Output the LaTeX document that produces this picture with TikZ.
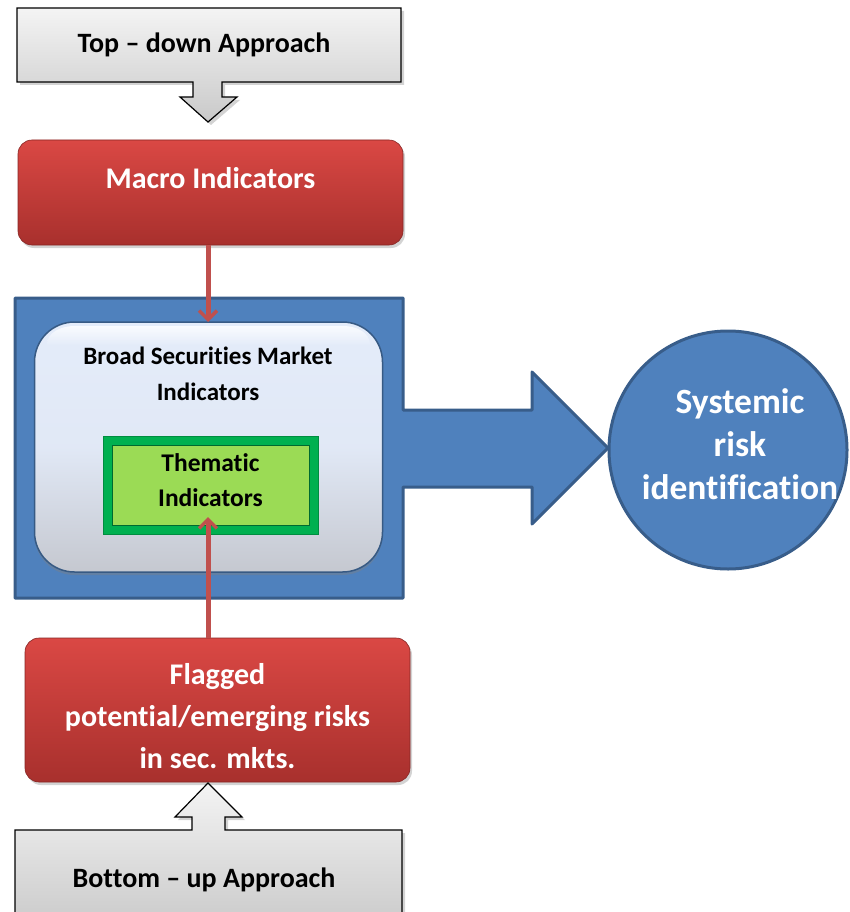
\documentclass[tikz,border=0pt]{standalone}
\usepackage{fontspec}
\setmainfont{Carlito}[Ligatures=NoCommon]
\newcommand\tI{t\kern0pt i}
\usetikzlibrary{arrows.meta,shadows,shapes.geometric}
\definecolor{redT}{HTML}{DA4844}
\definecolor{redB}{HTML}{A8302D}
\definecolor{redline}{HTML}{C0504D}
\definecolor{blueF}{HTML}{4F81BD}
\definecolor{blueD}{HTML}{385D8A}
\definecolor{grayT}{HTML}{F4F4F4}
\definecolor{grayB}{HTML}{C9C9C9}
\definecolor{innerT}{HTML}{E4ECFA}
\definecolor{innerB}{HTML}{C5C8D0}
\definecolor{greenO}{HTML}{00B050}
\definecolor{greenI}{HTML}{9BDB55}
\tikzset{
  x=1pt,y=-1pt,
  redbox/.style={draw=redB!80!black,line width=0.6pt,rounded corners=14pt,top color=redT,bottom color=redB,
     text=white,font=\bfseries\fontsize{30}{42}\selectfont,align=center,
     drop shadow={shadow xshift=2pt,shadow yshift=-3pt,opacity=0.35}},
  graybox/.style={draw=black,line width=1.2pt,top color=grayT,bottom color=grayB,
     drop shadow={shadow xshift=3pt,shadow yshift=-3pt,opacity=0.35}},
  redarrow/.style={draw=redline,line width=5pt,-{Straight Barb[length=9pt,width=18pt,line width=3.5pt]}},
  lbl/.style={font=\bfseries\fontsize{28}{30}\selectfont,text=black,align=center},
}
\begin{document}
\begin{tikzpicture}
\useasboundingbox (0,0) rectangle (850,912);
% top gray arrow box
\path[graybox] (17,8) -- (401,8) -- (401,82) -- (222,82) -- (222,97) -- (237,97) -- (208,122) -- (180,97) -- (193,97) -- (193,82) -- (17,82) -- cycle;
\node[lbl] (topdown) at (204,45) {Top – down Approach};
% macro
\node[redbox,minimum width=385pt,minimum height=105pt] (macro) at (210.5,192.5) {};
\node[text=white,font=\bfseries\fontsize{30}{36}\selectfont] (macrot) at (210.5,178) {Macro Indicators};
% big blue square and arrow
\path[draw=blueD,line width=3pt,fill=blueF,line join=round]
  (15,298) -- (403,298) -- (403,410) -- (532,410) -- (532,372) -- (608,448) -- (532,524) -- (532,487) -- (403,487) -- (403,598) -- (15,598) -- cycle;
\coordinate (bigtip) at (608,448);
% circle
\node[circle,draw=blueD,line width=3pt,fill=blueF,minimum size=238pt,inner sep=0pt] (sys) at (728,450) {};
\node[text=white,font=\bfseries\fontsize{35.5}{43}\selectfont,align=center] (syst) at (740,444) {Systemic\\risk\\iden\tI fication};
% inner box
\node[draw=blueF!70!black,line width=1.5pt,rounded corners=40pt,top color=innerT,bottom color=innerB,middle color=innerT!90!innerB,
   minimum width=348pt,minimum height=250pt,drop shadow={shadow xshift=0pt,shadow yshift=-3pt,opacity=0.4}] (inner) at (208.5,447) {};
\shade[top color=white,bottom color=innerT,opacity=0.8] (75,326) -- (343,326) to[out=0,in=90] (370,345) -- (47,345) to[out=90,in=180] cycle;
\node[font=\bfseries\fontsize{25}{36}\selectfont,align=center] (broad) at (208,374) {Broad Securi\tI es Market\\Indicators};
% green box
\node[draw=greenO!80!black,line width=1pt,fill=greenO,minimum width=215pt,minimum height=98pt] (thematicO) at (210.5,485) {};
\node[draw=greenO!60!black,line width=0.8pt,fill=greenI,minimum width=197pt,minimum height=80pt] (thematic) at (210.5,485) {};
\node[font=\bfseries\fontsize{25.5}{35}\selectfont,align=center] (thematict) at (210.5,480) {Thema\tI c\\Indicators};
% flagged
\node[redbox,minimum width=385pt,minimum height=144pt] (flag) at (217.5,710) {};
\node[text=white,font=\bfseries\fontsize{30}{42}\selectfont,align=center] (flagt) at (217.5,716) {Flagged\\poten\tI al/emerging risks\\in sec. mkts.};
% bottom gray arrow box
\path[graybox] (15,930) -- (15,830) -- (192,830) -- (192,817) -- (175,817) -- (208,783) -- (242,817) -- (225,817) -- (225,830) -- (402,830) -- (402,930) -- cycle;
\node[lbl] (bottomup) at (204,880) {Bottom – up Approach};
% red connectors
\coordinate (macroS) at (208,245);
\coordinate (innerN) at (208,322);
\draw[redarrow] (macroS) -- (innerN);
\coordinate (flagN) at (208,638);
\coordinate (themS) at (208,517);
\draw[redarrow] (flagN) -- (themS);
\end{tikzpicture}
\end{document}
